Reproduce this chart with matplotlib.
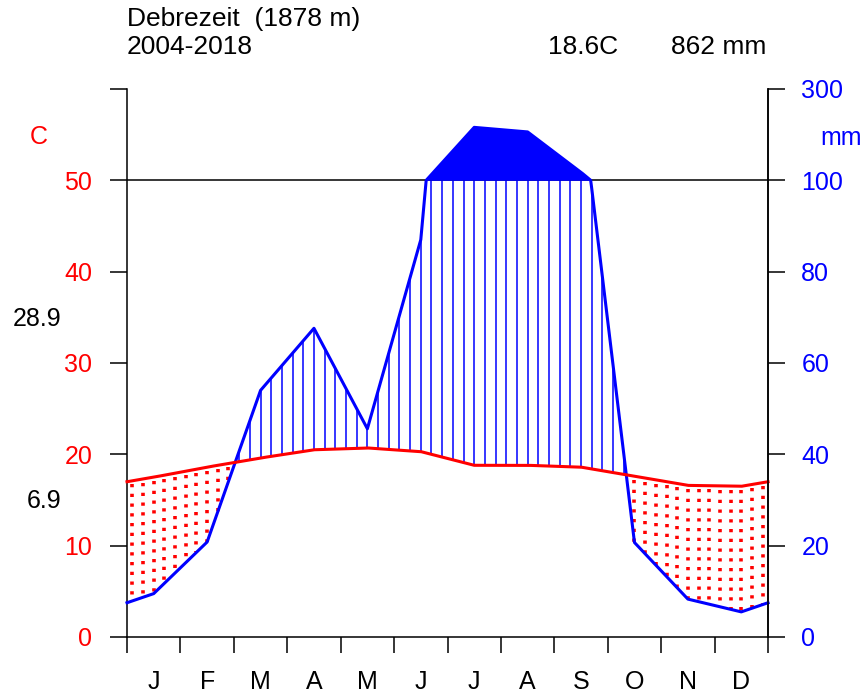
import numpy as np
import matplotlib

matplotlib.use("Agg")
import matplotlib.pyplot as plt

STATION = "Debrezeit  (1878 m)"
PERIOD = "2004-2018"
MEAN_TEMP_LABEL = "18.6C"
TOTAL_PREC_LABEL = "862 mm"
MAX_TEMP_LABEL = "28.9"
MIN_TEMP_LABEL = "6.9"

MONTHS = ["J", "F", "M", "A", "M", "J", "J", "A", "S", "O", "N", "D"]
TEMP_C = [17.5, 18.6, 19.6, 20.5, 20.7, 20.3, 18.8, 18.8, 18.6, 17.6, 16.6, 16.5]
PREC_MM = [9.5, 20.8, 54.0, 67.6, 45.6, 87.0, 216.0, 206.0, 117.6, 20.7, 8.3, 5.5]

LEFT_TICKS = [0, 10, 20, 30, 40, 50, 60]
LEFT_LABELS = ["0", "10", "20", "30", "40", "50", ""]
RIGHT_TICKS_MM = [0, 20, 40, 60, 80, 100, 300]

RED = "#ff0000"
BLUE = "#0000ff"
FONT = "Liberation Sans"
FS = 18
W, H = 865, 693

plt.rcParams.update({"font.family": FONT, "font.size": FS})


def prec_scale(p):
    # Walter-Lieth: 2 mm per degree up to 100 mm, then 20 mm per degree
    p = np.asarray(p, dtype=float)
    return np.where(p <= 100, p / 2.0, 50 + (p - 100) / 20.0)


def periodic_interp(xout, vals):
    vals = list(vals)
    xn = np.arange(-0.5, 12.5 + 0.01, 1.0)
    vn = [vals[-1]] + vals + [vals[0]]
    return np.interp(xout, xn, vn)


def fx(px):
    return px / W


def fy(py):
    return 1 - py / H


fig = plt.figure(figsize=(W / 100, H / 100), dpi=100)
ax = fig.add_axes([fx(127), fy(637), fx(768) - fx(127), (637 - 89) / H])
ax.set_xlim(0, 12)
ax.set_ylim(0, 60)

# fine curves
xf = np.linspace(0, 12, 1201)
tf = periodic_interp(xf, TEMP_C)
pf = prec_scale(periodic_interp(xf, PREC_MM))

# hatching: blue lines for humid, red dots for dry
xh = 0.1 + 0.2 * np.arange(60)
th = periodic_interp(xh, TEMP_C)
ph = prec_scale(periodic_interp(xh, PREC_MM))
wet = ph > th
ax.vlines(xh[wet], th[wet], np.minimum(ph[wet], 50), color=BLUE, lw=1.1, zorder=2)
ax.vlines(xh[~wet], th[~wet] - 0.4, ph[~wet], color=RED, lw=2.6,
          linestyles=[(0, (0.9, 1.8))], zorder=2)

ax.plot([0, 12], [50, 50], color="black", lw=1.1, zorder=2)
ax.fill_between(xf, 50, pf, where=pf >= 50, color=BLUE, lw=0, interpolate=True, zorder=3)

ax.plot(xf, pf, color=BLUE, lw=2.2, zorder=4, clip_on=False)
ax.plot(xf, tf, color=RED, lw=2.2, zorder=5, clip_on=False)

# axes
ax.spines["top"].set_visible(False)
for s in ("left", "right", "bottom"):
    ax.spines[s].set_linewidth(1.1)
ax.set_yticks(LEFT_TICKS)
ax.set_yticklabels(LEFT_LABELS)
ax.tick_params(axis="y", direction="out", length=12, width=1.1, pad=13, labelcolor=RED)

ax.set_xticks(np.arange(13))
ax.set_xticklabels([])
ax.set_xticks(np.arange(12) + 0.5, minor=True)
ax.set_xticklabels(MONTHS, minor=True)
ax.tick_params(axis="x", which="major", direction="out", length=11.5, width=1.1)
ax.tick_params(axis="x", which="minor", length=0, pad=24)

ax2 = ax.twinx()
ax2.set_ylim(0, 60)
ax2.set_yticks(prec_scale(RIGHT_TICKS_MM))
ax2.set_yticklabels([str(v) for v in RIGHT_TICKS_MM])
ax2.tick_params(axis="y", direction="out", length=12, width=1.1, pad=12, labelcolor=BLUE)
ax2.spines["top"].set_visible(False)
ax2.spines["right"].set_linewidth(1.1)
ax2.spines["left"].set_visible(False)
ax2.spines["bottom"].set_visible(False)

# texts
fig.text(fx(127), fy(26), STATION, ha="left", va="baseline", fontsize=19)
fig.text(fx(127), fy(54), PERIOD, ha="left", va="baseline", fontsize=19)
fig.text(fx(618), fy(54), MEAN_TEMP_LABEL, ha="right", va="baseline", fontsize=19)
fig.text(fx(766), fy(54), TOTAL_PREC_LABEL, ha="right", va="baseline", fontsize=19)
fig.text(fx(39), fy(137), "C", color=RED, ha="center", va="center")
fig.text(fx(841), fy(138), "mm", color=BLUE, ha="center", va="center")
fig.text(fx(61), fy(319), MAX_TEMP_LABEL, ha="right", va="center")
fig.text(fx(61), fy(501), MIN_TEMP_LABEL, ha="right", va="center")

fig.savefig("out.png", dpi=100)
